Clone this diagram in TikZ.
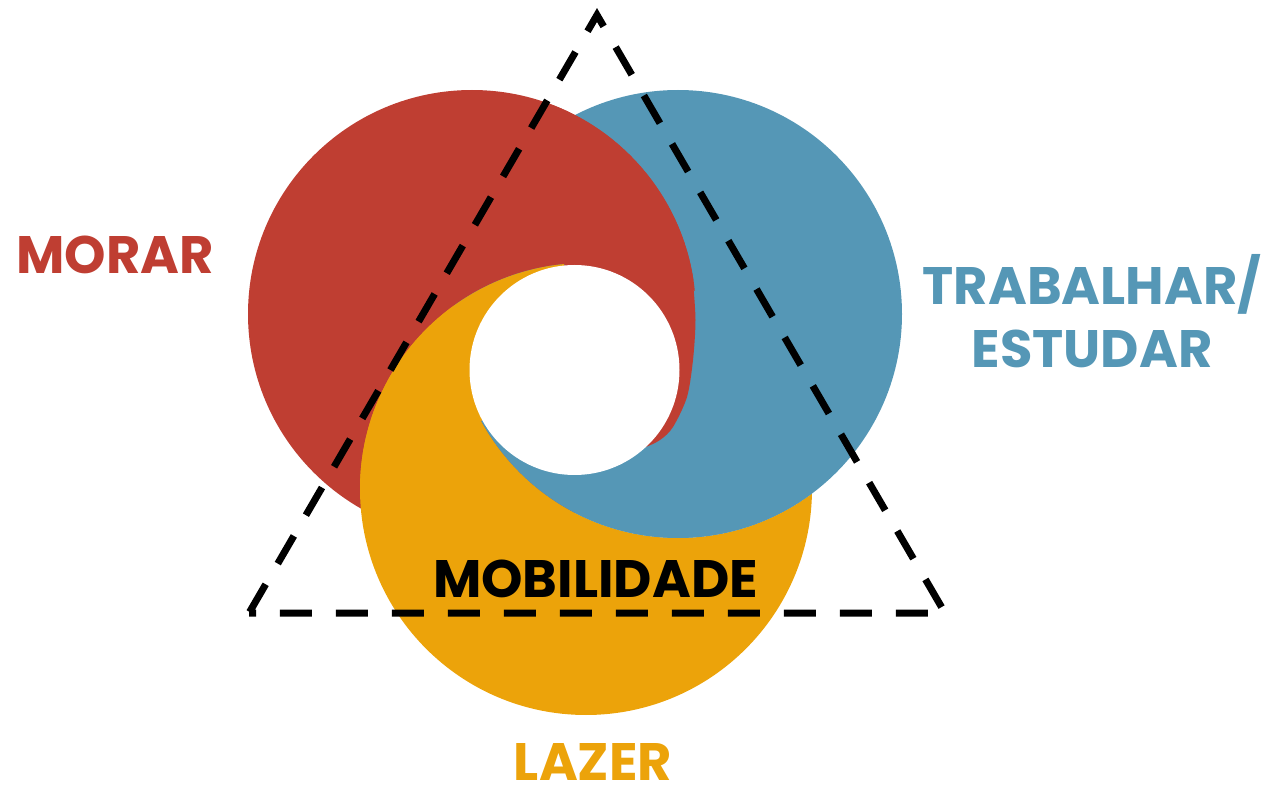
\documentclass[tikz,border=0pt]{standalone}
\usepackage{fontspec}
\newfontfamily\pop{Poppins}
\definecolor{cred}{HTML}{BF3E32}
\definecolor{cblue}{HTML}{5597B6}
\definecolor{cyel}{HTML}{ECA30A}
\tikzset{lab/.style={font=\pop\bfseries\fontsize{30}{36}\selectfont, inner sep=0pt, anchor=base}}
\begin{document}
\begin{tikzpicture}[x=0.02cm,y=0.02cm]
\useasboundingbox (0,0) rectangle (1269,-787);
\coordinate (R) at (472,-314);
\coordinate (B) at (678,-314);
\coordinate (Y) at (586,-489);
\coordinate (H) at (574.5,-370);
% base layers
\fill[cblue] (B) circle[radius=224];
\fill[cred] (R) circle[radius=224];
\begin{scope}
  \clip (B) circle[radius=224] (-20,20) -- (1300,20) -- (1300,-820) -- (-20,-820) -- cycle;
  \fill[cyel] (Y) circle[radius=226];
\end{scope}
% triple region
\begin{scope}
  \clip (B) circle[radius=224];
  \clip (Y) circle[radius=226];
  \fill[cblue] (B) circle[radius=224];
\end{scope}
\begin{scope}
  \clip (Y) circle[radius=226];
  \fill[cyel] (H) -- +(95.5:400) -- +(150:400) -- +(208.6:400) -- cycle;
\end{scope}
\begin{scope}
  \clip (Y) circle[radius=226] (R) circle[radius=224];
  \fill[cred] (H) -- +(95.5:300) -- (760,-70) -- (760,-280) -- (693,-280)
    -- plot[smooth] coordinates {(693,-282) (695.5,-320) (693,-360) (687,-397) (673,-427) (660,-440) (643,-448) (622,-453)}
    -- cycle;
\end{scope}
\fill[white] (H) circle[radius=105];
% triangle
\coordinate (tl) at (249,-613);
\coordinate (tr) at (945,-613);
\coordinate (tt) at (597,-15);
\draw[line width=0.14cm, dash pattern=on 0.64cm off 0.48cm, dash phase=0.5cm, line join=miter]
  (tl) -- (tr) -- (tt) -- cycle;
% labels
\node[lab, text=cred] (morar) at (115,-274) {MORAR};
\node[lab, text=cblue] (trab) at (1092,-305) {TRABALHAR/};
\node[lab, text=cblue] (estudar) at (1092,-368) {ESTUDAR};
\node[lab, text=cyel] (lazer) at (593,-780) {LAZER};
\node[lab, text=black] (mob) at (595.5,-597) {MOBILIDADE};
\end{tikzpicture}
\end{document}
